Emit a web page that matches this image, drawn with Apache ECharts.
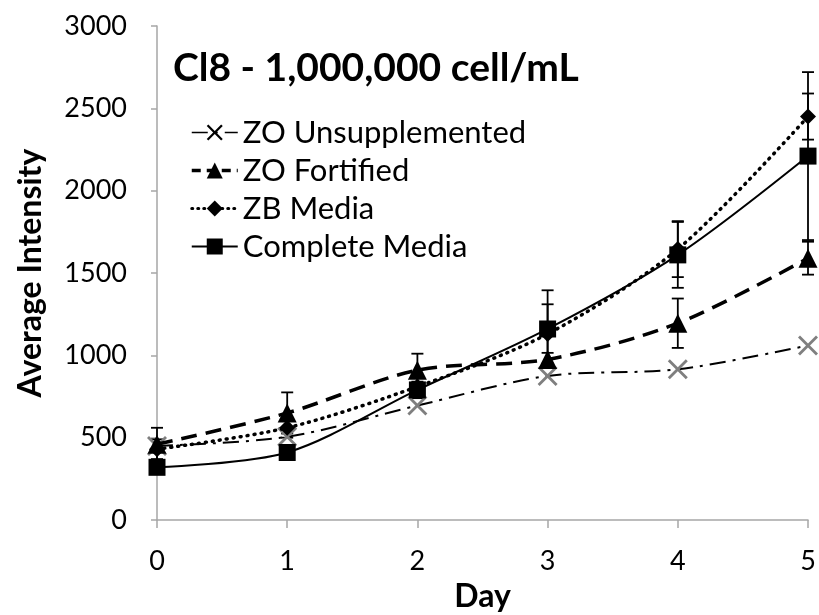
<!DOCTYPE html>
<html>
<head>
<meta charset="utf-8">
<script src="https://cdn.jsdelivr.net/npm/echarts@6/dist/echarts.min.js"></script>
<style>
  html, body { margin: 0; padding: 0; background: #fff; }
  #chart { width: 819px; height: 615px; }
</style>
</head>
<body>
<div id="chart"></div>
<script>
var days = [0, 1, 2, 3, 4, 5];
var unsupplemented = [450, 505, 695, 875, 915, 1060];
var fortified = [460, 650, 910, 975, 1195, 1590];
var fortifiedErr = [100, 125, 100, 40, 150, 100];
var zbMedia = [430, 560, 810, 1130, 1645, 2450];
var zbMediaErr = [60, 60, 60, 180, 170, 140];
var completeMedia = [320, 410, 790, 1160, 1610, 2210];
var completeErr = [40, 40, 50, 235, 200, 510];

var FONT = "Lato";
var xShape = "path://M0,1L1,0L5,4L9,0L10,1L6,5L10,9L9,10L5,6L1,10L0,9L4,5Z";

function pairs(vals) {
  return days.map(function (d, i) { return [d, vals[i]]; });
}
function errData(vals, errs) {
  return days.map(function (d, i) { return [d, vals[i] - errs[i], vals[i] + errs[i]]; });
}

function renderErr(params, api) {
  var x = api.value(0);
  var top = api.coord([x, api.value(2)]);
  var bot = api.coord([x, api.value(1)]);
  var w = 6;
  var style = { stroke: "#000", lineWidth: 1.8 };
  return {
    type: "group",
    children: [
      { type: "line", shape: { x1: top[0], y1: top[1], x2: bot[0], y2: bot[1] }, style: style },
      { type: "line", shape: { x1: top[0] - w, y1: top[1], x2: top[0] + w, y2: top[1] }, style: style },
      { type: "line", shape: { x1: bot[0] - w, y1: bot[1], x2: bot[0] + w, y2: bot[1] }, style: style }
    ]
  };
}

function errSeries(vals, errs) {
  return {
    type: "custom",
    renderItem: renderErr,
    data: errData(vals, errs),
    encode: { x: 0, y: [1, 2] },
    clip: false,
    silent: true,
    z: 3
  };
}

var myChart = echarts.init(document.getElementById("chart"));
var option = {
  animation: false,
  backgroundColor: "#fff",
  title: {
    text: "Cl8 - 1,000,000 cell/mL",
    left: 168,
    top: 44,
    textStyle: { fontFamily: FONT, fontSize: 39, fontWeight: "bold", color: "#000" }
  },
  legend: {
    orient: "vertical",
    left: 185,
    top: 112,
    itemWidth: 46,
    itemHeight: 20,
    itemGap: 7,
    textStyle: { fontFamily: FONT, fontSize: 31, color: "#000" },
    data: [
      { name: "ZO Unsupplemented", itemStyle: { color: "#000" }, lineStyle: { width: 1.5 } },
      { name: "ZO Fortified", lineStyle: { width: 3.5, type: [9, 6] } },
      { name: "ZB Media", lineStyle: { width: 3, type: [1, 5] } },
      { name: "Complete Media", lineStyle: { width: 2 } }
    ]
  },
  grid: { left: 157, right: 11, top: 26, bottom: 95, outerBoundsMode: "none" },
  xAxis: {
    type: "value",
    min: 0,
    max: 5,
    interval: 1,
    name: "Day",
    nameLocation: "middle",
    nameGap: 61,
    nameTextStyle: { fontFamily: FONT, fontSize: 32, fontWeight: "bold", color: "#000" },
    axisLine: { lineStyle: { color: "#a6a6a6", width: 1.5 } },
    axisTick: { length: 8, lineStyle: { color: "#a6a6a6", width: 1.5 } },
    axisLabel: { margin: 28, fontFamily: FONT, fontSize: 27, color: "#000" },
    splitLine: { show: false }
  },
  yAxis: {
    type: "value",
    min: 0,
    max: 3000,
    interval: 500,
    name: "Average Intensity",
    nameLocation: "middle",
    nameGap: 110,
    nameTextStyle: { fontFamily: FONT, fontSize: 32, fontWeight: "bold", color: "#000" },
    axisLine: { show: true, lineStyle: { color: "#a6a6a6", width: 1.5 } },
    axisTick: { show: true, length: 6, lineStyle: { color: "#a6a6a6", width: 1.5 } },
    axisLabel: {
      margin: 30,
      fontFamily: FONT,
      fontSize: 27,
      color: "#000",
      formatter: function (v) { return String(v); }
    },
    splitLine: { show: false }
  },
  series: [
    errSeries(fortified, fortifiedErr),
    errSeries(zbMedia, zbMediaErr),
    errSeries(completeMedia, completeErr),
    {
      name: "ZO Unsupplemented",
      type: "line",
      smooth: 0.3,
      data: pairs(unsupplemented),
      symbol: xShape,
      symbolSize: 20,
      itemStyle: { color: "#7f7f7f" },
      lineStyle: { color: "#000", width: 2, type: [16, 7, 3, 7] },
      z: 4
    },
    {
      name: "ZO Fortified",
      type: "line",
      smooth: 0.3,
      data: pairs(fortified),
      symbol: "triangle",
      symbolSize: 19,
      itemStyle: { color: "#000" },
      lineStyle: { color: "#000", width: 3.5, type: [16, 9] },
      z: 5
    },
    {
      name: "ZB Media",
      type: "line",
      smooth: 0.3,
      data: pairs(zbMedia),
      symbol: "diamond",
      symbolSize: 16,
      itemStyle: { color: "#000" },
      lineStyle: { color: "#000", width: 3.5, type: [1, 6], cap: "round" },
      z: 5
    },
    {
      name: "Complete Media",
      type: "line",
      smooth: 0.3,
      data: pairs(completeMedia),
      symbol: "rect",
      symbolSize: 17,
      itemStyle: { color: "#000" },
      lineStyle: { color: "#000", width: 2 },
      z: 6
    }
  ]
};
myChart.setOption(option);
</script>
</body>
</html>
